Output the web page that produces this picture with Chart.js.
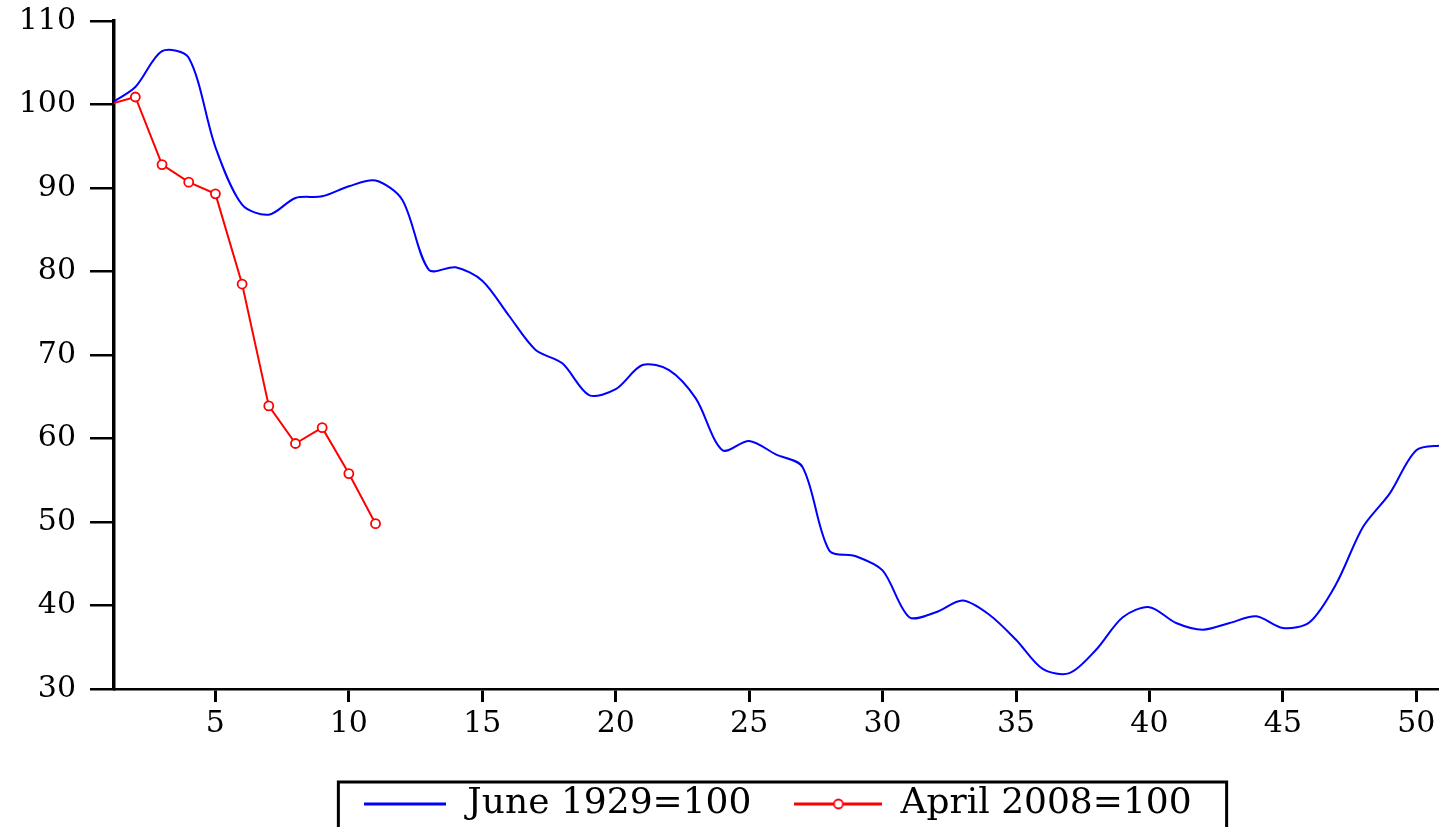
<!DOCTYPE html>
<html>
<head>
<meta charset="utf-8">
<script src="https://cdn.jsdelivr.net/npm/chart.js@4.4.0/dist/chart.umd.min.js"></script>
<style>
html,body{margin:0;padding:0;background:#fff;overflow:hidden}
#wrap{width:1439px;height:827px;position:relative}
</style>
</head>
<body>
<div id="wrap"><canvas id="c"></canvas></div>
<script>
// ---- data (months since peak) ----
const months = [1,2,3,4,5,6,7,8,9,10,11,12,13,14,15,16,17,18,19,20,21,22,23,24,25,26,27,28,29,30,31,32,33,34,35,36,37,38,39,40,41,42,43,44,45,46,47,48,49,50,51];
const june1929 = [100,102.1,106.4,105.6,94.9,88.0,86.8,88.8,89.0,90.2,90.9,88.6,80.2,80.5,78.9,74.7,70.6,69.0,65.2,65.9,68.8,68.2,64.8,58.6,59.7,58.1,56.6,46.6,45.9,44.2,38.6,39.2,40.6,38.9,35.9,32.4,31.9,34.7,38.6,39.8,37.9,37.1,37.9,38.7,37.3,38.0,42.6,49.4,53.4,58.6,59.2];
const april2008 = [100,100.9,92.8,90.7,89.3,78.5,63.9,59.4,61.3,55.8,49.8];
const xTickLabels = [5,10,15,20,25,30,35,40,45,50];
const yTickLabels = [30,40,50,60,70,80,90,100,110];
const seriesNames = ['June 1929=100','April 2008=100'];

const BLUE = '#0000ff', RED = '#ff0000';

function lineIcon(w, color, marker){
  const c = document.createElement('canvas');
  c.width = w; c.height = 14;
  const g = c.getContext('2d');
  g.strokeStyle = color; g.lineWidth = 3;
  g.beginPath(); g.moveTo(0,7); g.lineTo(w,7); g.stroke();
  if (marker){
    g.lineWidth = 1.8; g.fillStyle = '#fff';
    g.beginPath(); g.arc(w/2,7,4.5,0,Math.PI*2); g.fill(); g.stroke();
  }
  return c;
}
const icons = [lineIcon(82, BLUE, false), lineIcon(88, RED, true)];

const legendBorder = {
  id: 'legendBorder',
  afterDraw(chart){
    const hb = chart.legend && chart.legend.legendHitBoxes;
    if (!hb || !hb.length) return;
    const ctx = chart.ctx;
    const first = hb[0], last = hb[hb.length-1];
    const left = first.left - 23;
    const right = last.left + last.width + 35;
    const top = first.top + first.height/2 - 22;
    ctx.save();
    ctx.strokeStyle = '#000';
    ctx.lineWidth = 3;
    ctx.strokeRect(left, top, right-left, chart.height + 10 - top);
    ctx.restore();
  }
};

const tickFont = {family: 'DejaVu Serif', size: 30};

new Chart(document.getElementById('c'), {
  type: 'line',
  data: {
    datasets: [
      {
        label: seriesNames[0],
        data: months.map((m,i)=>({x:m, y:june1929[i]})),
        borderColor: BLUE, backgroundColor: BLUE,
        borderWidth: 2, pointRadius: 0, tension: 0.3, fill: false
      },
      {
        label: seriesNames[1],
        data: april2008.map((v,i)=>({x:months[i], y:v})),
        borderColor: RED, backgroundColor: '#fff',
        borderWidth: 2, pointRadius: 4.5, pointBorderWidth: 1.8,
        pointBackgroundColor: '#fff', pointBorderColor: RED,
        tension: 0, fill: false
      }
    ]
  },
  options: {
    responsive: true,
    maintainAspectRatio: false,
    animation: false,
    devicePixelRatio: 1,
    layout: {autoPadding: false, padding: {top: 21, right: 0, bottom: -5, left: 0}},
    plugins: {
      tooltip: {enabled: false},
      legend: {
        display: true,
        position: 'bottom',
        fullSize: false,
        labels: {
          usePointStyle: true,
          pointStyleWidth: 88,
          padding: 43,
          color: '#000',
          font: {family: 'DejaVu Serif', size: 36},
          generateLabels(chart){
            return chart.data.datasets.map((ds,i)=>({
              text: ds.label, pointStyle: icons[i], fillStyle: ds.borderColor,
              strokeStyle: ds.borderColor, lineWidth: 0, hidden: false,
              datasetIndex: i, fontColor: '#000'
            }));
          }
        }
      }
    },
    scales: {
      x: {
        type: 'linear', min: 1.2, max: 50.85,
        afterBuildTicks(s){ s.ticks = xTickLabels.map(v=>({value:v})); },
        afterFit(s){ s.height = 54; s.paddingLeft = 0; s.paddingRight = 0; },
        grid: {drawOnChartArea: false, drawTicks: true, tickLength: 13, color: '#000', lineWidth: 3},
        border: {display: true, color: '#000', width: 2.5},
        ticks: {font: tickFont, color: '#000', padding: 4, maxRotation: 0, autoSkip: false}
      },
      y: {
        type: 'linear', min: 30, max: 110,
        afterBuildTicks(s){ s.ticks = yTickLabels.map(v=>({value:v})); },
        afterFit(s){ s.width = 114; s.paddingTop = 0; s.paddingBottom = 0; },
        grid: {drawOnChartArea: false, drawTicks: true, tickLength: 24, color: '#000', lineWidth: 2.5},
        border: {display: true, color: '#000', width: 3.5},
        ticks: {font: tickFont, color: '#000', padding: 14}
      }
    }
  },
  plugins: [legendBorder]
});
</script>
</body>
</html>
